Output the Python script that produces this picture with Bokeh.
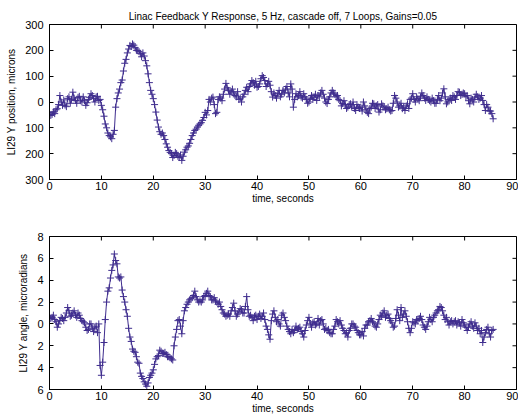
import math
from bokeh.plotting import figure
from bokeh.models import LinearAxis, FixedTicker, Range1d, Title
from bokeh.layouts import column
from bokeh.embed import file_html
from bokeh.resources import INLINE

# samples: whole/half seconds (0 .. 85.5 s) ...
position_um = [
    -40, -48, -45, -26, 25, -13, -12, 13, -5, 38,
    6, 18, 5, 20, -13, 10, 32, 13, 20, 6,
    -13, -55, -100, -130, -142, -110, 13, 50, 85, 150,
    190, 219, 225, 210, 200, 187, 190, 160, 109, 45,
    13, -39, -97, -125, -130, -162, -188, -200, -207, -200,
    -215, -226, -194, -175, -160, -130, -110, -97, -85, -71,
    -40, -33, 0, 19, -45, 10, 15, 30, 72, 45,
    40, 35, 20, 10, 0, 30, 57, 60, 83, 65,
    57, 70, 102, 83, 70, 65, 19, 25, 32, 20,
    45, 50, 35, 70, -20, 32, 25, 19, 32, 10,
    0, 25, 19, 6, 20, 45, 15, -6, 20, 45,
    30, 25, 5, -6, -10, -20, -7, 0, -33, -20,
    -20, 0, -30, -45, -20, -7, -15, -39, -7, -20,
    -26, -30, -33, 25, 0, -15, -26, -33, -7, 10,
    32, 0, 13, 20, 25, 6, 10, 0, 5, -5,
    25, 15, 51, -7, 10, 6, 20, 25, 38, 30,
    32, 25, -7, 10, 19, 20, 15, 6, -33, -20,
    -35, -65,
]
# ... and the samples in between (0.25, 0.75, ... 85.25 s)
position_mid_um = [
    -52, -38, -30, -10, 0, 8, -18, 20, 10, 15,
    -5, 22, 0, 5, -3, 18, 25, 0, 22, 10,
    -30, -85, -120, -135, -125, -20, 35, 75, 120, 165,
    205, 215, 220, 200, 195, 175, 178, 140, 75, 30,
    -10, -70, -115, -120, -145, -175, -195, -215, -195, -210,
    -205, -210, -185, -170, -145, -120, -105, -90, -80, -60,
    -50, 10, 15, -10, -40, 20, 5, 50, 55, 30,
    50, 25, 40, 15, 20, 45, 40, 70, 75, 80,
    60, 90, 95, 60, 80, 40, 35, 15, 45, 30,
    35, 60, 20, 50, 10, 20, 40, 15, 20, -5,
    15, 10, 30, 25, 35, 30, 0, 10, 35, 35,
    20, 10, -15, 5, -25, -10, -20, -25, -10, -25,
    -35, -15, -40, -25, -5, -25, -10, -30, -15, -30,
    -20, -35, -5, 15, -20, -5, -20, -15, -25, 15,
    10, 20, 5, 35, 15, 20, 5, 15, -5, 10,
    5, 35, 20, 0, 15, 25, 10, 40, 25, 35,
    20, 5, 15, 0, 30, 10, 25, -10, -10, -35,
    -45,
]

angle_urad = [
    0.7, 0.6, 0.4, -0.3, 0.3, 0.5, 0.6, 1.5, 0.7, 1.0,
    0.8, 1.0, 0.5, 0.2, -0.3, -0.5, 0.0, -0.7, -0.2, 0.0,
    -4.7, -1.7, 2.0, 3.3, 4.9, 6.4, 5.5, 4.2, 3.1, 2.0,
    0.7, -1.2, -2.3, -2.6, -3.5, -4.5, -5.0, -5.5, -5.4, -4.7,
    -4.2, -3.2, -2.9, -2.5, -2.7, -2.8, -3.0, -3.2, -2.0, -0.5,
    0.4, -0.9, 1.2, 1.8, 2.2, 2.4, 3.0, 2.2, 2.1, 2.2,
    2.6, 3.0, 2.5, 2.2, 2.1, 1.8, 1.6, 1.0, 0.7, 0.9,
    1.2, 1.9, 0.7, 1.1, 1.3, 1.0, 2.5, 0.7, 0.6, 0.7,
    0.4, 0.9, 0.7, 0.4, -0.5, -1.4, 0.9, 0.6, 0.4, -0.2,
    1.0, 0.3, -0.5, -0.9, -0.8, -0.2, -0.4, -0.7, -1.2, -0.1,
    0.6, -0.3, 0.2, 0.0, -0.1, 0.4, -0.5, -0.6, -0.8, -0.9,
    -0.2, 0.2, 0.3, -0.4, -0.9, -1.2, -0.4, 0.0, -0.3, -0.8,
    -1.0, -1.1, -0.1, 0.2, 0.5, 0.1, -0.3, 0.4, 0.7, 1.2,
    0.8, 0.5, 0.1, -0.2, 1.3, 0.3, 0.6, 1.2, 0.2, -0.8,
    0.2, 0.0, 0.3, 0.7, -0.1, -0.5, 0.2, 0.4, 0.6, 1.0,
    1.3, 1.5, 0.8, 0.6, -0.1, 0.3, 0.2, -0.1, 0.1, 0.4,
    -0.1, -0.6, 0.0, -0.2, 0.1, -0.6, -0.9, -1.7, -0.8, -0.3,
    -1.2, -0.5,
]
angle_mid_urad = [
    0.5, 0.8, 0.2, 0.0, 0.6, 0.3, 1.0, 1.2, 0.8, 1.2,
    0.6, 0.8, 0.3, 0.1, -0.6, 0.0, -0.4, -0.3, -0.8, -3.8,
    -3.5, 0.4, 3.0, 4.2, 5.4, 5.8, 4.3, 4.3, 2.5, 1.3,
    -0.4, -1.6, -2.5, -3.0, -3.6, -4.8, -5.3, -5.7, -4.9, -4.5,
    -3.7, -3.0, -2.4, -2.7, -2.6, -3.0, -3.1, -3.3, -1.2, 0.3,
    -0.2, 0.3, 1.5, 2.0, 2.3, 2.6, 2.5, 2.0, 2.0, 2.5,
    2.8, 2.6, 2.2, 2.4, 2.0, 2.0, 1.3, 0.9, 0.8, 0.7,
    1.5, 1.2, 0.9, 1.4, 1.0, 1.6, 1.3, 0.8, 0.3, 0.8,
    0.7, 0.5, 1.0, -0.2, -1.0, 0.3, 1.2, 0.2, 0.0, 0.8,
    0.6, -0.2, -0.7, -0.5, -0.6, -0.5, -0.3, -0.9, -0.6, 0.3,
    0.0, 0.1, -0.1, 0.5, 0.3, 0.0, -0.4, -0.5, -0.9, -0.5,
    0.4, 0.0, -0.1, -0.6, -0.8, -0.6, 0.0, -0.2, -0.6, -1.0,
    -0.7, -0.4, -0.1, 0.3, 0.2, -0.2, 0.0, 0.8, 1.0, 0.6,
    0.9, 0.3, -0.3, 0.5, 0.8, 1.5, 0.9, 0.7, -0.4, -0.4,
    0.1, 0.4, 0.5, 0.4, -0.3, -0.2, 0.6, 0.2, 0.8, 1.2,
    1.6, 1.2, 0.4, 0.2, 0.2, 0.0, 0.3, 0.2, -0.2, 0.1,
    -0.3, -0.3, 0.2, -0.4, -0.2, -0.4, -0.6, -1.2, -0.5, -0.9,
    -0.6,
]

t_start = 0.0
t_step = 0.25


def interleave(a, b):
    out = []
    for i in range(len(a)):
        out.append(a[i])
        if i < len(b):
            out.append(b[i])
    return out


pos_series = interleave(position_um, position_mid_um)
ang_series = interleave(angle_urad, angle_mid_urad)
time_s = [t_start + i * t_step for i in range(len(pos_series))]

x_ticks = [0, 10, 20, 30, 40, 50, 60, 70, 80, 90]
pos_ticks = [-300, -200, -100, 0, 100, 200, 300]
pos_tick_labels = ["300", "200", "100", "0", "100", "200", "300"]
ang_ticks = [-6, -4, -2, 0, 2, 4, 6, 8]
ang_tick_labels = ["6", "4", "2", "0", "2", "4", "6", "8"]

title_text = "Linac Feedback Y Response, 5 Hz, cascade off, 7 Loops, Gains=0.05"
x_label = "time, seconds"
pos_label = "LI29 Y position, microns"
ang_label = "LI29 Y angle, microradians"

COLOR = "#3f2d8e"
FONT = "Liberation Sans"
X_RANGE = (0, 90)


def style_axis(ax, ticks, overrides=None):
    ax.ticker = FixedTicker(ticks=ticks)
    ax.minor_tick_line_color = None
    ax.major_tick_in = 4
    ax.major_tick_out = 0
    ax.axis_line_color = "black"
    ax.major_tick_line_color = "black"
    ax.major_label_text_font = FONT
    ax.major_label_text_font_size = "11px"
    ax.major_label_text_color = "black"
    ax.axis_label_text_font = FONT
    ax.axis_label_text_font_size = "10px"
    ax.axis_label_text_font_style = "normal"
    ax.axis_label_text_color = "black"
    if overrides:
        ax.major_label_overrides = overrides


def make_panel(yvals, yr, yticks, ylabels, ylabel, height, top_border, bottom_border,
               title=None):
    p = figure(width=518, height=height, output_backend="svg", toolbar_location=None,
               x_range=Range1d(*X_RANGE), y_range=Range1d(*yr),
               min_border_left=49, min_border_right=2, min_border_top=top_border,
               min_border_bottom=bottom_border, x_axis_location=None, y_axis_location=None)
    p.xgrid.visible = False
    p.ygrid.visible = False
    p.outline_line_color = "black"
    p.outline_line_width = 1
    p.background_fill_color = "white"
    p.border_fill_color = "white"

    xb = LinearAxis(axis_label=x_label)
    style_axis(xb, x_ticks)
    xb.major_label_standoff = 2
    xb.axis_label_standoff = 0
    p.add_layout(xb, "below")

    yl = LinearAxis(axis_label=ylabel)
    style_axis(yl, yticks, dict(zip(yticks, ylabels)))
    yl.major_label_standoff = 6
    yl.axis_label_standoff = 5
    p.add_layout(yl, "left")

    # inward ticks on the top and right edges of the box
    p.ray(x=x_ticks, y=[yr[1]] * len(x_ticks), length=4, length_units="screen",
          angle=-math.pi / 2, line_color="black", line_width=1)
    p.ray(x=[X_RANGE[1]] * len(yticks), y=yticks, length=4, length_units="screen",
          angle=math.pi, line_color="black", line_width=1)

    if title:
        tt = Title(text=title, align="center", text_font=FONT, text_font_size="10px",
                   text_font_style="normal", text_color="black", standoff=5)
        p.add_layout(tt, "above")

    p.line(time_s, yvals, line_color=COLOR, line_width=1)
    p.scatter(time_s, yvals, marker="cross", size=7, line_color=COLOR, line_width=1)
    return p


top = make_panel(pos_series, (-300, 300), pos_ticks, pos_tick_labels, pos_label,
                 207, 24, 28, title=title_text)
bottom = make_panel(ang_series, (-6, 8), ang_ticks, ang_tick_labels, ang_label,
                    209, 29, 25)

layout = column(top, bottom, spacing=0)
open("out.html", "w").write(file_html(layout, INLINE))
